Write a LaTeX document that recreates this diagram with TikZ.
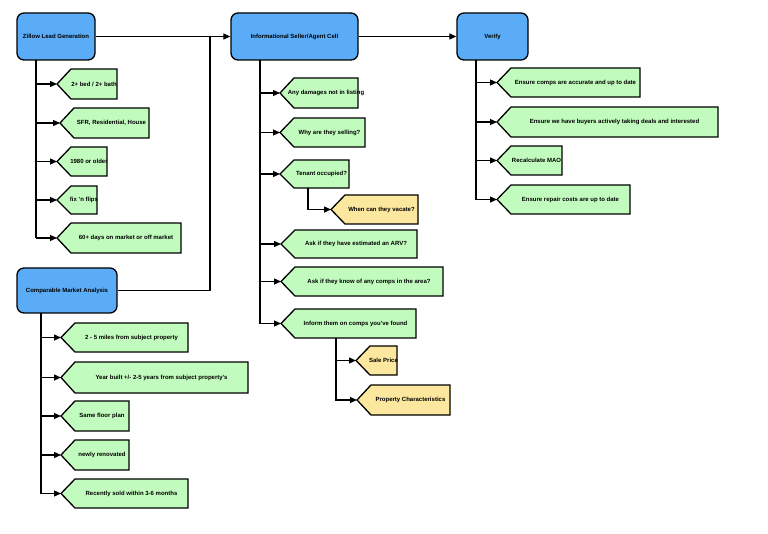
\documentclass[tikz,border=0pt]{standalone}
\usepackage{fontspec}
\setmainfont{Liberation Sans}
\usetikzlibrary{arrows.meta}
\definecolor{gr}{HTML}{C2FBBE}
\definecolor{yl}{HTML}{FBE79D}
\definecolor{bl}{HTML}{5AACF7}
\newcommand{\tg}[7]{%
  \draw[line width=1.3pt,fill=#6,line join=miter] (#2,{(#4+#5)/2}) -- (#2+14,#4) -- (#3,#4) -- (#3,#5) -- (#2+14,#5) -- cycle;
  \node[lbl] (#1) at ({(#2+14+#3)/2},{(#4+#5)/2}) {#7};
  \coordinate (#1t) at (#2,{(#4+#5)/2});}
\begin{document}
\begin{tikzpicture}[x=1pt,y=-1pt,
  lbl/.style={font=\fontsize{6}{7}\selectfont\bfseries,inner sep=0},
  bx/.style={draw,line width=1.3pt,fill=bl,rounded corners=7pt,font=\fontsize{6}{7}\selectfont\bfseries,align=center},
  ln/.style={line width=1.2pt},
  ar/.style={line width=1.2pt,-{Triangle[length=7pt,width=6pt]}}]
\useasboundingbox (0,0) rectangle (768,534);
% main boxes
\node[bx,minimum width=78pt,minimum height=47pt] (zl) at (56,36.5) {Zillow Lead Generation};
\node[bx,minimum width=127pt,minimum height=47pt] (inf) at (294.5,36.5) {Informational Seller/Agent Cell};
\node[bx,minimum width=71pt,minimum height=47pt] (ver) at (492.5,36.5) {Verify};
\node[bx,minimum width=100pt,minimum height=45pt] (cma) at (67,290.5) {Comparable Market Analysis};
\draw[ar] (zl.east) -- (inf.west);
\draw[ar] (inf.east) -- (ver.west);
\coordinate (j1) at (210,36.5);
\draw[ln] (cma.east) -| (j1);
% Zillow children
\tg{z1}{57}{117}{69}{99}{gr}{2+ bed / 2+ bath}
\tg{z2}{60}{149}{108}{138}{gr}{SFR, Residential, House}
\tg{z3}{57}{107}{147}{176}{gr}{1980 or older}
\tg{z4}{57}{97}{186}{214}{gr}{fix 'n flips}
\tg{z5}{57}{181}{223}{253}{gr}{60+ days on market or off market}
\draw[ln] (36,60) -- (36,238);
\foreach \n in {z1,z2,z3,z4,z5}{\draw[ar] (36,0 |- \n t) -- (\n t);}
% Info children
\tg{i1}{280}{358}{78}{108}{gr}{Any damages not in listing}
\tg{i2}{280}{365}{118}{147}{gr}{Why are they selling?}
\tg{i3}{280}{349}{160}{188}{gr}{Tenant occupied?}
\tg{i4}{281}{417}{230}{258}{gr}{Ask if they have estimated an ARV?}
\tg{i5}{281}{443}{267}{296}{gr}{Ask if they know of any comps in the area?}
\tg{i6}{281}{416}{309}{338}{gr}{Inform them on comps you've found}
\tg{i7}{331}{418}{195}{224}{yl}{When can they vacate?}
\tg{i8}{356}{397}{346}{375}{yl}{Sale Price}
\tg{i9}{357}{450}{385}{415}{yl}{Property Characteristics}
\draw[ln] (260,60) -- (260,324);
\foreach \n in {i1,i2,i3,i4,i5,i6}{\draw[ar] (260,0 |- \n t) -- (\n t);}
\draw[ar] (308,188) |- (i7t);
\draw[ln] (336,338) -- (336,401);
\foreach \n in {i8,i9}{\draw[ar] (336,0 |- \n t) -- (\n t);}
% Verify children
\tg{v1}{497}{640}{68}{97}{gr}{Ensure comps are accurate and up to date}
\tg{v2}{497}{718}{107}{137}{gr}{Ensure we have buyers actively taking deals and interested}
\tg{v3}{497}{562}{146}{175}{gr}{Recalculate MAO}
\tg{v4}{497}{630}{185}{214}{gr}{Ensure repair costs are up to date}
\draw[ln] (476,60) -- (476,200);
\foreach \n in {v1,v2,v3,v4}{\draw[ar] (476,0 |- \n t) -- (\n t);}
% CMA children
\tg{c1}{61}{188}{323}{352}{gr}{2 - 5 miles from subject property}
\tg{c2}{61}{248}{362}{393}{gr}{Year built +/- 2-5 years from subject property's}
\tg{c3}{61}{129}{401}{431}{gr}{Same floor plan}
\tg{c4}{61}{129}{440}{470}{gr}{newly renovated}
\tg{c5}{61}{188}{479}{508}{gr}{Recently sold within 3-6 months}
\draw[ln] (41,313) -- (41,494);
\foreach \n in {c1,c2,c3,c4,c5}{\draw[ar] (41,0 |- \n t) -- (\n t);}
\end{tikzpicture}
\end{document}
